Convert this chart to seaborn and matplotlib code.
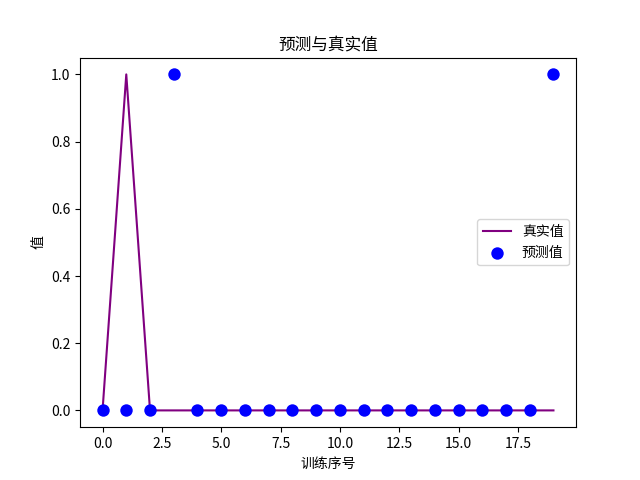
import numpy as np
import pandas as pd
import matplotlib
matplotlib.use('Agg')
import matplotlib.pyplot as plt
import seaborn as sns

plt.rcParams['font.family'] = ['Noto Sans CJK SC', 'DejaVu Sans']
plt.rcParams['axes.unicode_minus'] = False

# 数据
idx = list(range(20))
true_vals = [0, 1, 0, 0, 0, 0, 0, 0, 0, 0, 0, 0, 0, 0, 0, 0, 0, 0, 0, 0]
pred_vals = [0, 0, 0, 1, 0, 0, 0, 0, 0, 0, 0, 0, 0, 0, 0, 0, 0, 0, 0, 1]

df = pd.DataFrame({'idx': idx, 'true': true_vals, 'pred': pred_vals})

fig, ax = plt.subplots(figsize=(6.4, 4.8), dpi=100)
sns.lineplot(data=df, x='idx', y='true', color='purple', label='真实值', ax=ax)
sns.scatterplot(data=df, x='idx', y='pred', color='blue', s=80, linewidth=0,
                label='预测值', ax=ax, zorder=3)

ax.set_title('预测与真实值')
ax.set_xlabel('训练序号')
ax.set_ylabel('值')
ax.legend(loc='center right')

plt.savefig('out.png', dpi=100)
